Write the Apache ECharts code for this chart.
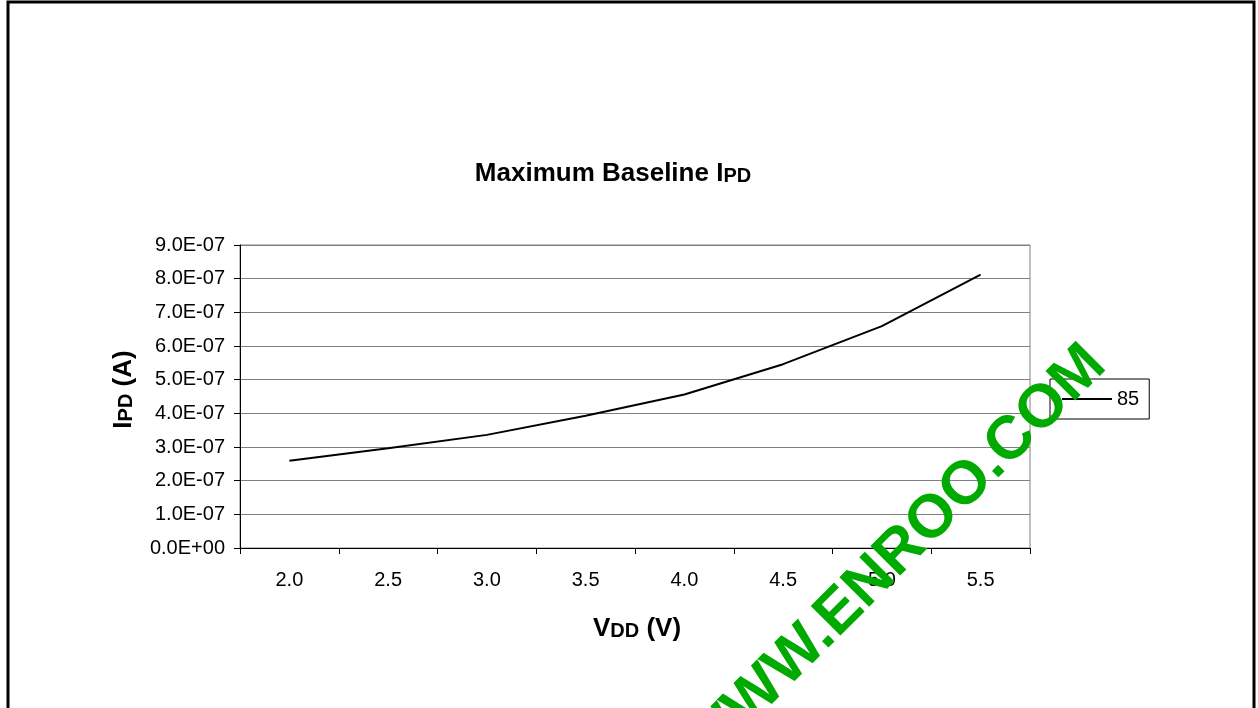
<!DOCTYPE html>
<html>
<head>
<meta charset="utf-8">
<script src="https://cdn.jsdelivr.net/npm/echarts@6/dist/echarts.min.js"></script>
<style>
  html, body { margin: 0; padding: 0; background: #fff; }
  #chart { width: 1258px; height: 708px; }
</style>
</head>
<body>
<div id="chart"></div>
<script>
// VDD (V) categories
const vddLabels = ['2.0', '2.5', '3.0', '3.5', '4.0', '4.5', '5.0', '5.5'];
// maximum baseline IPD (A), series "85"
const ipd85 = [2.59e-7, 2.96e-7, 3.36e-7, 3.93e-7, 4.56e-7, 5.46e-7, 6.59e-7, 8.12e-7];
const seriesName = '85';

const font = '"Liberation Sans", Arial, sans-serif';

function sciLabel(v) {
    // Excel style: 9.0E-07, 0.0E+00
    if (Math.abs(v) < 1e-15) return '0.0E+00';
    const parts = v.toExponential(1).split('e');
    const sign = parts[1][0] === '-' ? '-' : '+';
    let exp = parts[1].replace('+', '').replace('-', '');
    if (exp.length < 2) exp = '0' + exp;
    return parts[0] + 'E' + sign + exp;
}

// big text with a small subscript part (IPD, VDD)
const nameRich = {
    a: { fontSize: 26, fontWeight: 'bold', color: '#000', fontFamily: font },
    b: { fontSize: 20, fontWeight: 'bold', color: '#000', fontFamily: font, padding: [5, 0, 0, 0] }
};

const chart = echarts.init(document.getElementById('chart'));

chart.setOption({
    animation: false,
    backgroundColor: '#fff',
    textStyle: { fontFamily: font },
    title: {
        text: '{a|Maximum Baseline I}{b|PD}',
        left: 608,
        top: 156,
        textAlign: 'center',
        textStyle: { rich: nameRich }
    },
    grid: {
        left: 240,
        right: 228,
        top: 245,
        bottom: 160,
        show: true,
        borderColor: '#808080',
        borderWidth: 1
    },
    legend: {
        left: 1050,
        top: 379,
        orient: 'vertical',
        data: [seriesName],
        icon: 'rect',
        itemWidth: 50,
        itemHeight: 2,
        itemGap: 0,
        padding: [10, 10, 10, 12],
        borderColor: '#000',
        borderWidth: 1,
        textStyle: { fontSize: 20, color: '#000', fontFamily: font }
    },
    xAxis: {
        type: 'category',
        data: vddLabels,
        boundaryGap: true,
        name: '{a|V}{b|DD}{a| (V)}',
        nameLocation: 'middle',
        nameGap: 68,
        nameTextStyle: { rich: nameRich, padding: [0, 0, 0, 4] },
        axisLine: { lineStyle: { color: '#000', width: 1 } },
        axisTick: { show: true, length: 6, lineStyle: { color: '#000' } },
        axisLabel: { fontSize: 20, color: '#000', margin: 22, fontFamily: font },
        splitLine: { show: false }
    },
    yAxis: {
        type: 'value',
        min: 0,
        max: 9e-7,
        interval: 1e-7,
        name: '{a|I}{b|PD}{a| (A)}',
        nameLocation: 'middle',
        nameGap: 103,
        nameRotate: 90,
        nameTextStyle: { rich: nameRich, padding: [0, 0, 0, 14] },
        axisLine: { show: true, lineStyle: { color: '#000', width: 1 } },
        axisTick: { show: true, length: 6, lineStyle: { color: '#000' } },
        axisLabel: { fontSize: 20, color: '#000', margin: 15, fontFamily: font, formatter: sciLabel },
        splitLine: { show: true, lineStyle: { color: '#808080', width: 1 } }
    },
    series: [{
        name: seriesName,
        type: 'line',
        data: ipd85,
        symbol: 'none',
        lineStyle: { color: '#000', width: 2 },
        itemStyle: { color: '#000' }
    }],
    graphic: [
        {
            type: 'rect',
            silent: true,
            shape: { x: 8, y: 2, width: 1246, height: 740 },
            style: { fill: 'none', stroke: '#000', lineWidth: 3 },
            z: 100
        },
        {
            type: 'text',
            silent: true,
            x: 895,
            y: 557,
            rotation: Math.PI / 4,
            style: {
                text: 'WWW.ENROO.COM',
                fill: '#00aa00',
                font: 'bold 61px "Liberation Sans", Arial, sans-serif',
                align: 'center',
                verticalAlign: 'middle'
            },
            z: 200
        }
    ]
});
</script>
</body>
</html>
